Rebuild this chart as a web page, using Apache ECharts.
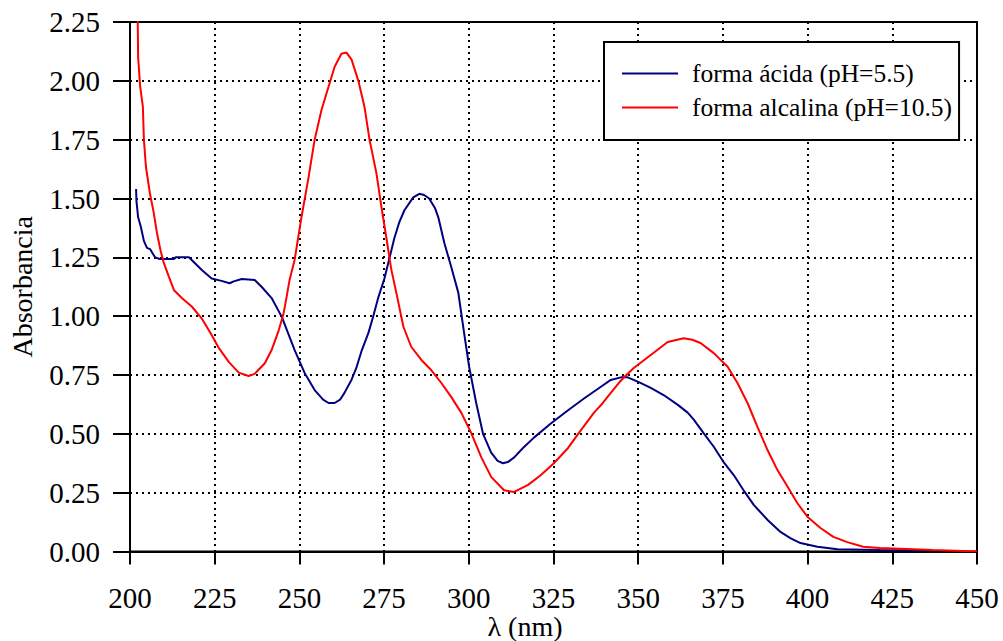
<!DOCTYPE html>
<html>
<head>
<meta charset="utf-8">
<script src="https://cdn.jsdelivr.net/npm/echarts@6/dist/echarts.min.js"></script>
<style>
html,body{margin:0;padding:0;background:#fff;}
#c{width:1003px;height:641px;}
</style>
</head>
<body>
<div id="c"></div>
<script>
var xTicks = [200, 225, 250, 275, 300, 325, 350, 375, 400, 425, 450];
var yTicks = [0, 0.25, 0.5, 0.75, 1.0, 1.25, 1.5, 1.75, 2.0, 2.25];
var seriesNames = ['forma ácida (pH=5.5)', 'forma alcalina (pH=10.5)'];

var acidX = [201.8,201.9,202.4,203.2,204.1,205.0,205.9,207.4,208.8,213.0,213.5,217.4,219.1,221.2,224.1,227.0,229.4,230.6,233.0,236.8,238.9,241.8,244.8,248.6,251.5,254.5,257.0,258.6,260.4,262.0,263.3,265.4,266.8,268.3,270.4,271.8,273.3,275.1,276.3,278.0,279.5,281.0,283.6,285.4,286.8,288.3,290.0,291.0,292.8,294.8,296.9,298.6,300.1,302.2,304.2,306.6,308.5,310.1,311.5,313.4,316.0,319.3,324.3,329.3,334.0,339.0,341.9,344.9,346.9,350.2,353.7,357.5,361.7,364.6,366.4,369.3,372.3,375.2,378.2,381.1,384.1,388.2,392.0,394.9,397.9,402.9,408.8,421.4,437.0];
var acidY = [1.54,1.49,1.42,1.38,1.32,1.29,1.285,1.25,1.243,1.243,1.25,1.25,1.226,1.196,1.16,1.15,1.14,1.148,1.158,1.154,1.124,1.077,0.997,0.856,0.76,0.686,0.645,0.631,0.631,0.645,0.674,0.73,0.78,0.85,0.93,1.00,1.08,1.16,1.23,1.33,1.40,1.45,1.505,1.52,1.515,1.50,1.46,1.42,1.31,1.21,1.10,0.93,0.785,0.63,0.50,0.42,0.385,0.375,0.38,0.40,0.44,0.485,0.545,0.60,0.65,0.70,0.729,0.74,0.74,0.72,0.695,0.665,0.623,0.59,0.56,0.503,0.445,0.38,0.325,0.26,0.198,0.134,0.083,0.057,0.036,0.02,0.01,0.006,0.005];

var alkX = [202.2,202.4,203.0,203.8,204.1,204.7,205.9,207.0,208.0,209.0,210.0,211.5,213.0,215.3,218.3,221.2,224.1,226.2,229.2,232.1,235.0,236.8,239.8,241.8,243.9,245.3,246.2,247.1,248.6,250.6,252.7,254.5,256.5,258.6,260.4,262.4,263.9,265.4,267.4,269.2,270.7,272.7,274.2,275.7,277.1,278.6,280.7,283.0,286.0,288.9,291.9,294.8,297.8,300.7,303.7,306.6,310.4,313.4,317.5,321.3,325.1,329.3,333.1,336.9,339.5,341.9,344.5,346.5,348.7,353.7,358.7,363.4,366.0,368.4,372.3,376.4,379.3,382.3,385.2,388.2,391.1,394.1,397.0,400.0,403.8,407.6,411.7,416.4,421.4,437.0,450.0];
var alkY = [2.35,2.10,1.975,1.89,1.75,1.635,1.52,1.44,1.35,1.28,1.225,1.167,1.11,1.077,1.04,0.99,0.92,0.865,0.805,0.76,0.746,0.755,0.80,0.856,0.94,1.01,1.08,1.154,1.24,1.42,1.59,1.75,1.875,1.975,2.06,2.115,2.12,2.09,2.00,1.89,1.75,1.61,1.465,1.33,1.20,1.10,0.955,0.87,0.814,0.771,0.716,0.657,0.589,0.504,0.40,0.317,0.26,0.253,0.283,0.325,0.375,0.44,0.516,0.589,0.63,0.674,0.72,0.75,0.78,0.835,0.89,0.906,0.90,0.886,0.843,0.785,0.716,0.63,0.53,0.43,0.346,0.275,0.205,0.147,0.10,0.062,0.04,0.02,0.015,0.006,0.0];

function zip(xs, ys){ var o=[]; for(var i=0;i<xs.length;i++){o.push([xs[i], ys[i]]);} return o; }

var FONT = 'Liberation Serif';
var chart = echarts.init(document.getElementById('c'), null, {renderer:'svg'});
var option = {
  backgroundColor: '#fff',
  animation: false,
  textStyle: {fontFamily: FONT, color: '#000'},
  grid: {left: 128, right: 26, top: 22, bottom: 89.5, containLabel: false,
         show: true, borderColor: '#000', borderWidth: 2, backgroundColor: 'transparent'},
  legend: {
    left: 604, top: 42, orient: 'vertical',
    backgroundColor: '#fff', borderColor: '#000', borderWidth: 2,
    padding: [18.5, 7, 19.5, 18],
    icon: 'rect', itemWidth: 56, itemHeight: 2, itemGap: 8,
    textStyle: {fontFamily: FONT, fontSize: 25.5, color: '#000', lineHeight: 25, padding: [0,0,0,9]},
    data: seriesNames
  },
  xAxis: {
    type: 'value', min: xTicks[0], max: xTicks[xTicks.length-1], interval: 25,
    axisLine: {show: true, lineStyle: {color: '#000', width: 2}},
    axisTick: {show: true, inside: false, length: 13, lineStyle: {color: '#000', width: 2}},
    axisLabel: {show: true, margin: 34.5, fontFamily: FONT, fontSize: 29, lineHeight: 24, color: '#000'},
    splitLine: {show: true, lineStyle: {color: '#000', width: 2, type: [2, 4]}}
  },
  yAxis: {
    type: 'value', min: yTicks[0], max: yTicks[yTicks.length-1], interval: 0.25,
    name: 'Absorbancia', nameLocation: 'middle', nameGap: 94,
    nameTextStyle: {fontFamily: FONT, fontSize: 28, color: '#000'},
    axisLine: {show: true, lineStyle: {color: '#000', width: 2}},
    axisTick: {show: true, inside: false, length: 17, lineStyle: {color: '#000', width: 2}},
    axisLabel: {show: true, margin: 30, fontFamily: FONT, fontSize: 29, color: '#000',
                formatter: function(v){ return v.toFixed(2); }},
    splitLine: {show: true, lineStyle: {color: '#000', width: 2, type: [2, 4]}}
  },
  graphic: [{
    type: 'text', x: 525, y: 626,
    style: {text: 'λ (nm)', fontFamily: FONT, fontSize: 28, lineHeight: 24, fill: '#000',
            align: 'center', verticalAlign: 'middle'}
  }],
  series: [
    {name: seriesNames[0], type: 'line', data: zip(acidX, acidY), symbol: 'none', showSymbol: false,
     clip: true, lineStyle: {color: '#000080', width: 2}, itemStyle: {color: '#000080'}, z: 3},
    {name: seriesNames[1], type: 'line', data: zip(alkX, alkY), symbol: 'none', showSymbol: false,
     clip: true, lineStyle: {color: '#ff0000', width: 2}, itemStyle: {color: '#ff0000'}, z: 4}
  ]
};
chart.setOption(option);
</script>
</body>
</html>
